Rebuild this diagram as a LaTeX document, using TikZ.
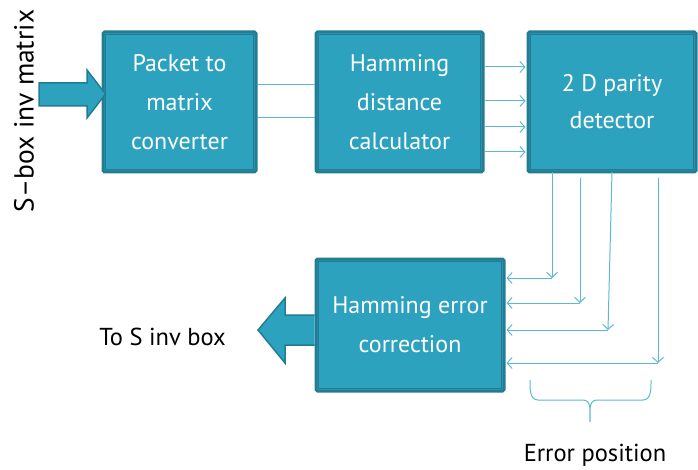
\documentclass[tikz,border=0pt]{standalone}
\usepackage{fontspec}
\setmainfont{PT Sans}
\usetikzlibrary{arrows.meta,calc}
\definecolor{boxfill}{HTML}{2DA2BF}
\definecolor{boxdark}{HTML}{237C93}
\definecolor{wire}{HTML}{5CB9D2}
\tikzset{
  blk/.style={draw=boxdark, fill=boxfill, line width=3pt, rounded corners=1.5pt,
    text=white, align=center, inner sep=0pt,
    font=\fontsize{24}{39}\selectfont},
  wireline/.style={draw=wire, line width=1pt},
  wirearrow/.style={wireline, -{Straight Barb[length=5pt,width=11pt,line width=1pt]}},
  fatarrow/.style={draw=boxdark, fill=boxfill, line width=1.5pt, line join=miter},
  lbl/.style={text=black, font=\fontsize{24.5}{28}\selectfont, inner sep=0pt}
}
\begin{document}
\begin{tikzpicture}[x=1pt,y=-1pt]
\useasboundingbox (0,0) rectangle (698,470);
% blocks
\node[blk, minimum width=153pt, minimum height=140pt] (b1) at (179.5,102) {Packet to\\matrix\\converter};
\node[blk, minimum width=167pt, minimum height=140pt] (b2) at (399.5,102) {Hamming\\distance\\calculator};
\node[blk, minimum width=168pt, minimum height=140pt, font=\fontsize{24}{37}\selectfont] (b3) at (612,102) {2 D parity\\detector};
\node[blk, minimum width=188pt, minimum height=132pt] (b4) at (410,325) {Hamming error\\correction};
% inner frames
\foreach \b in {b1,b2,b3,b4}{
  \draw[boxdark, line width=0.8pt] ($(\b.north west)+(4,4)$) rectangle ($(\b.south east)+(-4,-4)$);
}
% input fat arrow
\coordinate (inTip) at (b1.west |- 0,94);
\draw[fatarrow] (39,83) -- (87,83) -- (87,70) -- ($(inTip)+(4,0)$) -- (87,118) -- (87,106) -- (39,106) -- cycle;
\node[lbl, rotate=90, font=\fontsize{27.5}{30}\selectfont] (inlbl) at (24,111) {S–box inv matrix};
% output fat arrow
\coordinate (outBase) at (b4.west |- 0,330);
\draw[fatarrow] (outBase |- 0,315) -- (285,315) -- (285,298) -- (258,330) -- (285,363) -- (285,345) -- (outBase |- 0,345);
\node[lbl, anchor=east] (outlbl) at (226,337) {To S inv box};
% b1 -> b2 lines
\draw[wireline] (b1.east |- 0,85) -- (b2.west |- 0,85);
\draw[wireline] (b1.east |- 0,118) -- (b2.west |- 0,118);
% b2 -> b3 arrows
\foreach \yy in {67,101,127,152}{
  \draw[wirearrow] (b2.east |- 0,\yy) -- ([xshift=-1pt]b3.west |- 0,\yy);
}
% b3 -> b4 error position lines
\coordinate (c1) at (552,278);
\coordinate (c2) at (580,303);
\coordinate (c3) at (608,330);
\coordinate (c4) at (658,363);
\draw[wirearrow] (552,172) -- (c1);
\draw[wirearrow] (580,178) -- (c2);
\draw[wirearrow] (612,172) -- (c3);
\draw[wirearrow] (658,178) -- (c4);
\foreach \c in {c1,c2,c3,c4}{
  \draw[wirearrow] (\c) -- ([xshift=1pt]b4.east |- \c);
}
% brace
\draw[wireline] (530,380) to[out=-90,in=180] (538,400) -- (583,400)
  to[out=0,in=90] (590,422) to[out=90,in=180] (597,400) -- (643,400)
  to[out=0,in=-90] (651,380);
\node[lbl] (errlbl) at (595,455) {Error position};
\end{tikzpicture}
\end{document}
